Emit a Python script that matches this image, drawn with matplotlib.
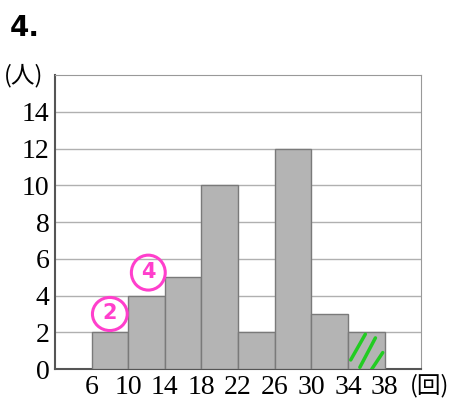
import numpy as np
import matplotlib.pyplot as plt
from matplotlib.patches import Ellipse

# histogram data (回 -> 人)
edges = [6, 10, 14, 18, 22, 26, 30, 34, 38]
counts = [2, 4, 5, 10, 2, 12, 3, 2]
yticks = [0, 2, 4, 6, 8, 10, 12, 14]

plt.rcParams['font.family'] = ['Liberation Serif', 'Noto Sans CJK JP', 'DejaVu Sans']

fig = plt.figure(figsize=(4.5, 4.03), dpi=100)
ax = fig.add_axes([0.122, 0.084, 0.814, 0.730])

lefts = edges[:-1]
ax.bar(lefts, counts, width=4, align='edge', color='#b4b4b4',
       edgecolor='#7a7a7a', linewidth=1.0, zorder=3)

ax.set_xlim(2, 42)
ax.set_ylim(0, 16)
ax.set_yticks(yticks)
ax.set_xticks(edges)
ax.tick_params(length=0, labelsize=20, pad=4)
ax.grid(axis='y', color='#b0b0b0', linewidth=1.0, zorder=0)
for s in ax.spines.values():
    s.set_color('#999999')
ax.spines['left'].set_color('#555555')
ax.spines['bottom'].set_color('#555555')
ax.spines['left'].set_linewidth(1.5)
ax.spines['bottom'].set_linewidth(1.5)

fig.text(0.022, 0.93, '4.', fontsize=20, fontweight='bold',
         family='DejaVu Sans', va='center')
fig.text(0.008, 0.812, '(人)', fontsize=17, va='center',
         family=['Noto Sans CJK JP'])
fig.text(0.998, 0.042, '(回)', fontsize=17, va='center', ha='right',
         family=['Noto Sans CJK JP'])

# handwritten marks
pink = '#ff3fcc'
ax.text(8.0, 3.05, '2', color=pink, fontsize=15, fontweight='bold',
        ha='center', va='center', family='DejaVu Sans', zorder=5)
ax.add_patch(Ellipse((8.0, 3.0), 3.8, 1.8, fill=False, ec=pink, lw=2.2, zorder=5))
ax.text(12.2, 5.3, '4', color=pink, fontsize=15, fontweight='bold',
        ha='center', va='center', family='DejaVu Sans', zorder=5)
ax.add_patch(Ellipse((12.2, 5.25), 3.7, 1.9, fill=False, ec=pink, lw=2.2, zorder=5))
green = '#22cc22'
ax.plot([34.3, 35.9], [0.5, 1.9], color=green, lw=2.5, solid_capstyle='round', zorder=5)
ax.plot([35.3, 37.0], [0.1, 1.7], color=green, lw=2.5, solid_capstyle='round', zorder=5)
ax.plot([36.6, 37.8], [0.0, 0.9], color=green, lw=2.5, solid_capstyle='round', zorder=5)

fig.savefig('out.png', dpi=100)
